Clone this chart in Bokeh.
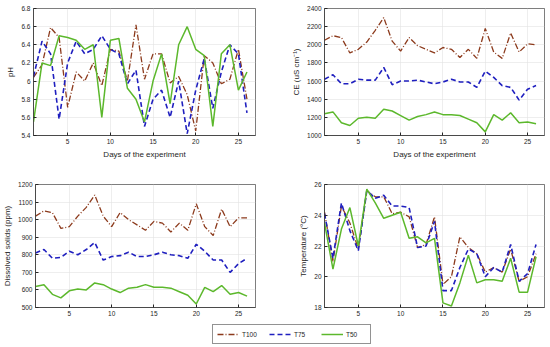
from bokeh.plotting import figure
from bokeh.layouts import column, row
from bokeh.models import FixedTicker, CustomJSTickFormatter, Range1d, Legend, LegendItem
from bokeh.embed import file_html
from bokeh.resources import INLINE

days = list(range(1, 27))

ph_t100 = [6.04, 6.18, 6.59, 6.48, 5.71, 6.10, 6.00, 6.20, 5.95, 6.35, 6.33, 6.00, 6.62, 6.02,
           6.30, 6.30, 5.98, 6.05, 5.85, 5.45, 6.28, 6.20, 5.97, 6.02, 6.35, 5.80]
ph_t75 = [6.05, 6.44, 6.30, 5.58, 6.20, 6.44, 6.30, 6.35, 6.50, 6.35, 6.30, 5.97, 6.12, 5.50,
          5.80, 5.90, 5.60, 6.00, 5.42, 5.90, 6.25, 5.70, 6.10, 6.40, 6.30, 5.65]
ph_t50 = [5.55, 6.20, 6.17, 6.50, 6.48, 6.45, 6.35, 6.40, 5.60, 6.45, 6.47, 5.92, 5.80, 5.55,
          6.00, 6.30, 5.75, 6.40, 6.60, 6.35, 6.28, 5.50, 6.30, 6.40, 5.90, 6.10]

ce_t100 = [2050, 2100, 2080, 1910, 1950, 2030, 2160, 2300, 2040, 1930, 2080, 1990, 1950, 1910,
           1970, 1950, 1860, 1950, 1850, 2180, 1920, 1850, 2130, 1920, 2010, 2000]
ce_t75 = [1620, 1670, 1570, 1570, 1620, 1610, 1610, 1750, 1560, 1600, 1600, 1610, 1590, 1570,
          1590, 1620, 1590, 1590, 1530, 1710, 1640, 1550, 1530, 1390, 1510, 1550]
ce_t50 = [1240, 1260, 1140, 1110, 1190, 1200, 1190, 1290, 1270, 1220, 1170, 1210, 1230, 1260,
          1230, 1230, 1220, 1180, 1140, 1040, 1230, 1170, 1250, 1140, 1150, 1130]

ds_t100 = [1020, 1050, 1040, 950, 960, 1020, 1070, 1140, 1020, 960, 1040, 1000, 970, 940,
           990, 980, 930, 980, 940, 1090, 960, 910, 1060, 960, 1010, 1010]
ds_t75 = [810, 830, 780, 785, 820, 800, 830, 870, 770, 790, 795, 815, 790, 790,
          800, 815, 800, 795, 780, 860, 820, 770, 770, 700, 750, 780]
ds_t50 = [620, 630, 575, 555, 595, 605, 600, 640, 630, 605, 585, 610, 615, 630,
          615, 615, 610, 590, 570, 520, 615, 590, 625, 575, 585, 565]

temp_t100 = [24.2, 21.0, 24.6, 23.5, 21.8, 25.6, 25.2, 25.2, 24.1, 24.2, 23.9, 21.9, 22.1, 23.9,
             19.5, 20.0, 22.6, 21.9, 21.5, 20.3, 20.6, 20.3, 21.8, 19.7, 20.0, 21.5]
temp_t75 = [24.1, 21.2, 24.8, 23.0, 21.7, 25.6, 25.1, 25.3, 24.6, 24.6, 24.5, 21.9, 22.0, 23.6,
            19.1, 19.1, 20.6, 21.8, 21.5, 20.0, 20.6, 20.3, 22.1, 19.7, 20.2, 22.1]
temp_t50 = [23.5, 20.5, 23.1, 24.5, 22.0, 25.7, 24.8, 23.8, 24.0, 24.2, 22.5, 22.6, 22.2, 22.5,
            18.3, 18.1, 19.6, 21.4, 19.6, 19.8, 19.8, 19.7, 21.2, 19.0, 19.0, 21.3]

x_ticks = [5, 10, 15, 20, 25]
ph_ticks = [5.4, 5.6, 5.8, 6.0, 6.2, 6.4, 6.6, 6.8]
ce_ticks = [1000, 1200, 1400, 1600, 1800, 2000, 2200, 2400]
ds_ticks = [500, 600, 700, 800, 900, 1000, 1100, 1200]
temp_ticks = [18, 20, 22, 24, 26]

series_names = ["T100", "T75", "T50"]
colors = ["#8c3a1c", "#1f1fbf", "#5cb82c"]
dashes = ["6 2 1 2", "5 3", "solid"]
widths = [1.3, 1.6, 1.5]

FONT = "Liberation Sans"
AX = "#262626"


def make_fig(w, h, ylabel, yr, yticks, ys, bl, br, bt, bb, fmt=None):
    p = figure(width=w, height=h, output_backend="svg", toolbar_location=None,
               x_range=Range1d(1, 27), y_range=Range1d(*yr),
               min_border_left=bl, min_border_right=br, min_border_top=bt, min_border_bottom=bb)
    p.outline_line_color = AX
    p.outline_line_width = 0.6
    p.background_fill_color = "white"
    p.border_fill_color = "white"
    for ax in (p.xaxis[0], p.yaxis[0]):
        ax.axis_line_color = AX
        ax.axis_line_width = 0.6
        ax.major_tick_line_color = AX
        ax.major_tick_in = 3
        ax.major_tick_out = 0
        ax.minor_tick_line_color = None
        ax.major_label_text_font = FONT
        ax.major_label_text_font_size = "6.5px"
        ax.major_label_text_color = AX
        ax.axis_label_text_font = FONT
        ax.axis_label_text_font_size = "8px"
        ax.axis_label_text_font_style = "normal"
        ax.axis_label_text_color = AX
        ax.major_label_standoff = 3
        ax.axis_label_standoff = 3
    p.xaxis.ticker = FixedTicker(ticks=x_ticks)
    p.yaxis.ticker = FixedTicker(ticks=yticks)
    if fmt is not None:
        p.yaxis.formatter = fmt
    p.xaxis.axis_label = "Days of the experiment"
    p.yaxis.axis_label = ylabel
    p.xgrid.ticker = FixedTicker(ticks=x_ticks)
    p.ygrid.ticker = FixedTicker(ticks=yticks)
    p.grid.grid_line_color = "#e3e3e3"
    p.grid.grid_line_width = 0.6
    for yv, c, d, lw in zip(ys, colors, dashes, widths):
        p.line(days, yv, line_color=c, line_dash=d, line_width=lw)
    return p


ph_fmt = CustomJSTickFormatter(code="return tick.toFixed(1).replace(/\\.0$/, '');")

f1 = make_fig(275, 170, "pH", (5.4, 6.8), ph_ticks, [ph_t100, ph_t75, ph_t50], 33, 20, 8, 35, ph_fmt)
f2 = make_fig(275, 170, "CE (uS cm\u207b\u00b9)", (1000, 2400), ce_ticks, [ce_t100, ce_t75, ce_t50], 49, 6, 8, 35)
f3 = make_fig(275, 163, "Dissolved solids (ppm)", (500, 1200), ds_ticks, [ds_t100, ds_t75, ds_t50], 33, 20, 14, 23)
f4 = make_fig(275, 163, "Temperature (\u00b0C)", (18, 26), temp_ticks, [temp_t100, temp_t75, temp_t50], 49, 6, 14, 23)

leg = figure(width=550, height=21, output_backend="svg", toolbar_location=None,
             x_range=Range1d(0, 1), y_range=Range1d(0, 1),
             x_axis_location=None, y_axis_location=None,
             min_border=0, outline_line_color=None, margin=(-10, 0, 0, 0))
leg.grid.visible = False
items = []
for name, c, d, lw in zip(series_names, colors, dashes, widths):
    r = leg.line(x=[5, 6], y=[5, 5], line_color=c, line_dash=d, line_width=lw)
    items.append(LegendItem(label=name, renderers=[r]))
legend = Legend(items=items, orientation="horizontal", location=(212, 0),
                label_text_font=FONT, label_text_font_size="6.5px", label_text_color=AX,
                glyph_width=22, glyph_height=10, label_standoff=3, spacing=7,
                padding=4, margin=0, border_line_color=AX, border_line_width=0.6,
                label_height=10)
leg.add_layout(legend)

layout = column(row(f1, f2, spacing=0), row(f3, f4, spacing=0), leg, spacing=0)

open("out.html", "w").write(file_html(layout, INLINE))
